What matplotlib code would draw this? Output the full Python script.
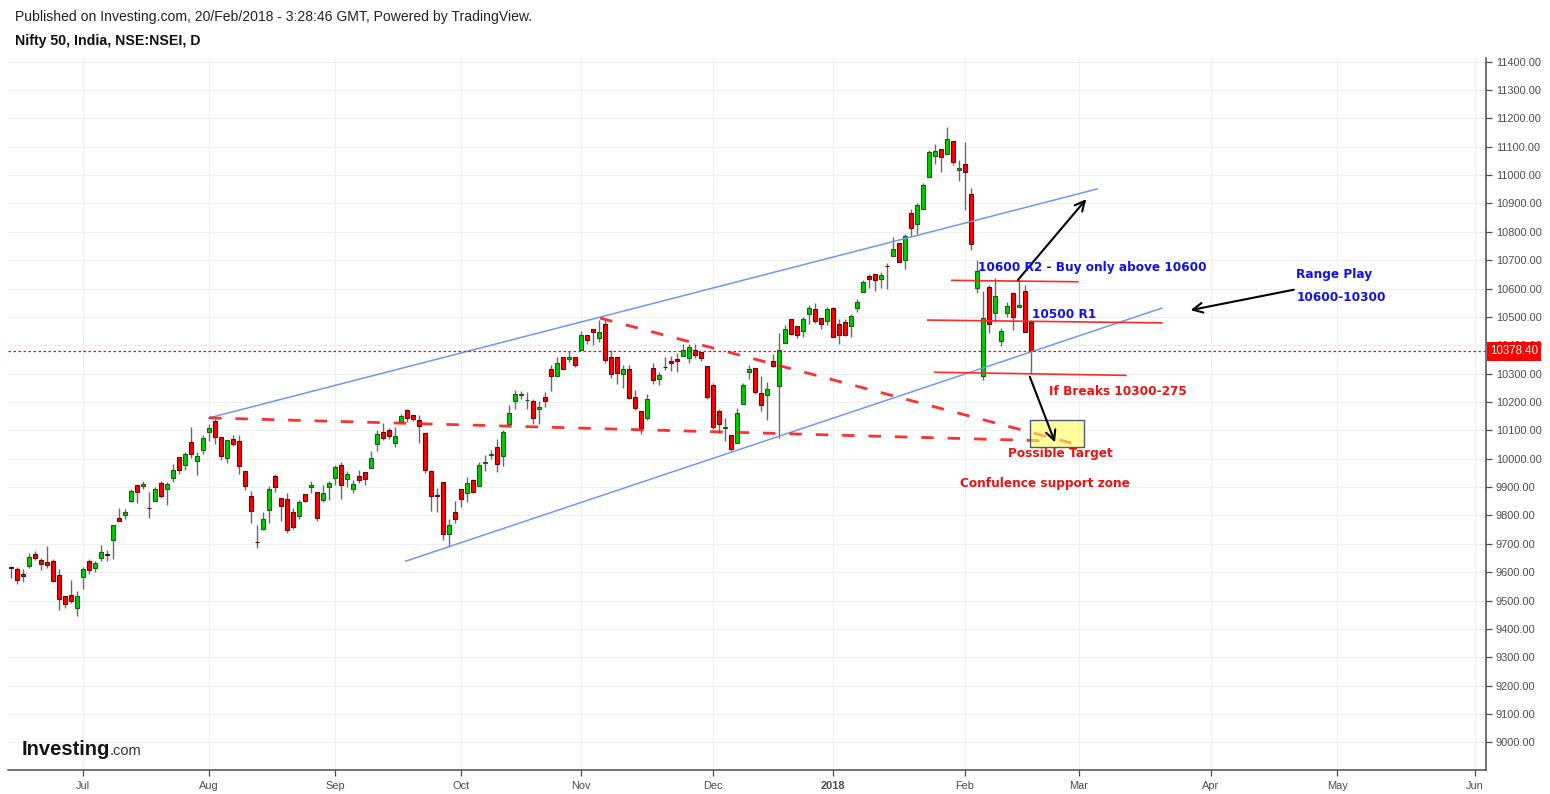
import numpy as np
import pandas as pd
import matplotlib
matplotlib.use("Agg")
import matplotlib.pyplot as plt
from matplotlib.patches import Rectangle
from matplotlib.transforms import blended_transform_factory

# ---------------- data ----------------
holidays = ['2017-06-26', '2017-08-15', '2017-08-25', '2017-10-02', '2017-10-20',
            '2017-12-25', '2018-01-26', '2018-02-13']
first_day = '2017-06-14'
last_day = '2018-02-19'
future_end = '2018-06-30'

opens = [9617, 9612, 9592, 9623, 9665, 9644, 9636, 9640, 9591, 9516, 9520, 9474,
         9582, 9640, 9614, 9651, 9663, 9714, 9792, 9802, 9852, 9907, 9905, 9828,
         9852, 9915, 9893, 9932, 10007, 9979, 10060, 9992, 10032, 10094, 10132, 10078,
         10002, 10071, 10064, 9958, 9869, 9708, 9752, 9820, 9940, 9862, 9859, 9813,
         9799, 9876, 9900, 9884, 9855, 9900, 9933, 9979, 9928, 9894, 9940, 9954,
         9968, 10053, 10095, 10102, 10056, 10131, 10173, 10155, 10135, 10092, 9957, 9872,
         9917, 9734, 9812, 9892, 9880, 9924, 9905, 9985, 10013, 10041, 10008, 10121,
         10205, 10223, 10207, 10205, 10174, 10216, 10318, 10290, 10360, 10350, 10360, 10385,
         10438, 10459, 10427, 10474, 10357, 10357, 10299, 10317, 10217, 10169, 10145, 10320,
         10281, 10325, 10346, 10352, 10362, 10356, 10384, 10375, 10327, 10260, 10167, 10110,
         10083, 10056, 10192, 10306, 10320, 10231, 10224, 10343, 10256, 10409, 10491, 10469,
         10451, 10509, 10527, 10495, 10487, 10530, 10475, 10483, 10468, 10530, 10589, 10644,
         10650, 10632, 10680, 10716, 10759, 10700, 10867, 10827, 10879, 10995, 11067, 11091,
         11076, 11119, 11017, 11041, 10935, 10601, 10292, 10604, 10515, 10415, 10515, 10583,
         10534, 10592, 10482]
highs = [9623, 9618, 9612, 9667, 9673, 9649, 9694, 9645, 9612, 9516, 9574, 9532,
         9620, 9648, 9641, 9696, 9679, 9767, 9827, 9822, 9895, 9907, 9922, 9881,
         9902, 9920, 9918, 9980, 10007, 10022, 10112, 10022, 10082, 10124, 10139, 10078,
         10067, 10085, 10082, 9958, 9888, 9767, 9813, 9904, 9945, 9862, 9880, 9825,
         9856, 9876, 9922, 9884, 9906, 9922, 9979, 9987, 9958, 9926, 9962, 9954,
         10026, 10100, 10127, 10107, 10111, 10159, 10176, 10155, 10155, 10092, 9960, 9896,
         9917, 9786, 9851, 9892, 9937, 9930, 9988, 10012, 10030, 10068, 10101, 10189,
         10242, 10239, 10235, 10209, 10203, 10235, 10332, 10359, 10360, 10380, 10360, 10450,
         10438, 10459, 10488, 10490, 10383, 10357, 10332, 10332, 10243, 10169, 10229, 10339,
         10307, 10357, 10364, 10372, 10405, 10405, 10405, 10375, 10327, 10267, 10175, 10144,
         10083, 10179, 10267, 10332, 10320, 10293, 10272, 10371, 10443, 10473, 10491, 10469,
         10500, 10541, 10548, 10495, 10536, 10536, 10491, 10491, 10512, 10563, 10630, 10653,
         10653, 10659, 10691, 10783, 10759, 10794, 10879, 10903, 10973, 11088, 11109, 11091,
         11171, 11119, 11055, 11118, 10954, 10700, 10590, 10612, 10636, 10462, 10554, 10589,
         10630, 10612, 10488]
lows = [9579, 9559, 9565, 9615, 9644, 9608, 9614, 9568, 9468, 9475, 9491, 9445,
        9539, 9592, 9602, 9639, 9639, 9646, 9781, 9788, 9848, 9845, 9894, 9791,
        9852, 9862, 9836, 9918, 9946, 9962, 10004, 9942, 10018, 10062, 10052, 9994,
        9986, 10045, 9945, 9889, 9773, 9685, 9747, 9773, 9882, 9780, 9738, 9753,
        9788, 9847, 9879, 9781, 9849, 9855, 9906, 9858, 9901, 9879, 9915, 9908,
        9968, 10027, 10066, 10069, 10040, 10131, 10129, 10132, 10056, 9949, 9816, 9813,
        9714, 9690, 9774, 9831, 9849, 9880, 9905, 9957, 10000, 9954, 9976, 10121,
        10174, 10209, 10177, 10122, 10123, 10183, 10239, 10290, 10318, 10342, 10324, 10385,
        10406, 10400, 10413, 10338, 10285, 10263, 10251, 10210, 10173, 10088, 10136, 10263,
        10259, 10312, 10311, 10305, 10362, 10337, 10356, 10344, 10210, 10106, 10092, 10064,
        10029, 10056, 10192, 10280, 10228, 10167, 10138, 10322, 10074, 10409, 10437, 10427,
        10429, 10476, 10477, 10457, 10471, 10430, 10404, 10432, 10430, 10518, 10589, 10601,
        10592, 10601, 10597, 10716, 10692, 10668, 10783, 10794, 10879, 10995, 11041, 11010,
        11076, 11035, 10980, 10877, 10736, 10585, 10277, 10444, 10483, 10399, 10501, 10454,
        10534, 10448, 10301]
closes = [9615, 9573, 9585, 9655, 9651, 9629, 9626, 9568, 9506, 9488, 9498, 9516,
          9611, 9607, 9632, 9672, 9661, 9767, 9781, 9812, 9887, 9884, 9912, 9825,
          9894, 9869, 9912, 9961, 9961, 10018, 10018, 10011, 10074, 10109, 10076, 10009,
          10065, 10053, 9974, 9905, 9815, 9706, 9788, 9894, 9900, 9834, 9749, 9759,
          9848, 9852, 9908, 9791, 9880, 9915, 9972, 9908, 9946, 9912, 9926, 9928,
          10004, 10088, 10074, 10081, 10081, 10149, 10145, 10139, 10115, 9961, 9870, 9870,
          9734, 9766, 9786, 9857, 9913, 9884, 9977, 9987, 10015, 9980, 10093, 10163,
          10227, 10230, 10208, 10142, 10181, 10205, 10292, 10339, 10318, 10360, 10332, 10438,
          10420, 10448, 10448, 10347, 10300, 10304, 10317, 10214, 10180, 10109, 10211, 10278,
          10295, 10323, 10337, 10344, 10384, 10395, 10366, 10354, 10218, 10113, 10121, 10111,
          10036, 10160, 10260, 10317, 10235, 10189, 10246, 10327, 10384, 10459, 10441, 10437,
          10491, 10530, 10487, 10474, 10527, 10430, 10438, 10438, 10503, 10554, 10622, 10632,
          10630, 10648, 10678, 10738, 10695, 10785, 10812, 10893, 10964, 11080, 11085, 11065,
          11126, 11045, 11024, 11012, 10756, 10663, 10495, 10475, 10574, 10451, 10538, 10499,
          10542, 10448, 10378.40]
last_price = 10378.40

month_labels = ['Jul', 'Aug', 'Sep', 'Oct', 'Nov', 'Dec', '2018', 'Feb', 'Mar', 'Apr', 'May', 'Jun']
month_keys = ['2017-07', '2017-08', '2017-09', '2017-10', '2017-11', '2017-12',
              '2018-01', '2018-02', '2018-03', '2018-04', '2018-05', '2018-06']
price_ticks = list(range(9000, 11401, 100))

# drawn annotations (bar index, price)
upper_channel = [(33, 10144), (181, 10951)]
lower_channel = [(65.8, 9639), (191.8, 10531)]
dashed_support = [(33, 10144), (172.7, 10063)]
dashed_falling = [(98.2, 10496), (177.3, 10052)]
level_r2 = [(156.8, 10629), (177.8, 10624)]
level_r1 = [(152.8, 10489), (191.8, 10479)]
level_s = [(154.0, 10305), (185.8, 10294)]
arrow_up = [(167.8, 10630), (179.2, 10915)]
arrow_down = [(169.8, 10289), (174.0, 10058)]
arrow_left = [(213.8, 10596), (196.6, 10524)]
target_box = [(169.9, 10042), (178.9, 10136)]
blue_texts = [(161.2, 10673, '10600 R2 - Buy only above 10600'),
              (170.2, 10510, '10500 R1'),
              (214.2, 10651, 'Range Play'),
              (214.2, 10570, '10600-10300')]
red_texts = [(173.0, 10236, 'If Breaks 10300-275'),
             (166.2, 10020, 'Possible Target'),
             (158.2, 9914, 'Confulence support zone')]

# ---------------- dates / positions ----------------
hist = pd.bdate_range(first_day, last_day, freq='C', holidays=holidays)
future = pd.bdate_range(pd.Timestamp(last_day) + pd.Timedelta(days=1), future_end)
all_dates = hist.append(future)
xs = np.arange(len(opens))
ym = all_dates.strftime('%Y-%m')
tick_pos = []
for k in month_keys:
    idx = np.where(ym == k)[0]
    tick_pos.append(int(idx[0]) if len(idx) else np.nan)

# ---------------- figure ----------------
W, H = 1550, 794
fig = plt.figure(figsize=(W / 100, H / 100), dpi=100)
ax = fig.add_axes([8 / W, 24 / H, (1486 - 8) / W, (770 - 58) / H])
ax.set_xlim(-0.5, 245.83)
ax.set_ylim(8902.5, 11413)

axis_col = '#4d4d4d'
grid_col = '#efefef'
for p in price_ticks:
    ax.axhline(p, color=grid_col, lw=0.8, zorder=0)
for t in tick_pos:
    ax.axvline(t, color=grid_col, lw=0.8, zorder=0)

o = np.array(opens, float); c = np.array(closes, float)
h = np.array(highs, float); l = np.array(lows, float)
up = c >= o
ax.vlines(xs, l, h, color='#6a6a6a', lw=1.0, zorder=2)
bottoms = np.minimum(o, c)
heights = np.maximum(np.abs(c - o), 1.0)
ax.bar(xs[up], heights[up], bottom=bottoms[up], width=0.68, color='#00cc00',
       edgecolor='#1d5a1d', linewidth=0.8, zorder=3)
ax.bar(xs[~up], heights[~up], bottom=bottoms[~up], width=0.68, color='#ff0000',
       edgecolor='#5a0a0a', linewidth=0.8, zorder=3)

# trend channel
for seg in (upper_channel, lower_channel):
    ax.plot([seg[0][0], seg[1][0]], [seg[0][1], seg[1][1]], color='#6e9be8', lw=1.1, zorder=4)
for seg in (dashed_support, dashed_falling):
    ax.plot([seg[0][0], seg[1][0]], [seg[0][1], seg[1][1]], color='#ff1a1a', lw=2.0,
            ls=(0, (4.5, 5)), zorder=4, alpha=0.9)
for seg in (level_r2, level_r1, level_s):
    ax.plot([seg[0][0], seg[1][0]], [seg[0][1], seg[1][1]], color='#ff2a2a', lw=1.2, zorder=4)

# target box
(bx0, by0), (bx1, by1) = target_box
ax.add_patch(Rectangle((bx0, by0), bx1 - bx0, by1 - by0, facecolor=(1, 1, 0.35, 0.6),
                       edgecolor='#4b5878', lw=1.0, zorder=5))

# arrows
for seg in (arrow_up, arrow_down, arrow_left):
    ax.annotate('', xy=seg[1], xytext=seg[0],
                arrowprops=dict(arrowstyle='->,head_length=0.7,head_width=0.35',
                                color='black', lw=1.5, shrinkA=0, shrinkB=0), zorder=6)

# texts
for x, y, s in blue_texts:
    ax.text(x, y, s, color='#1010f0', fontsize=8.7, fontweight='bold', family='DejaVu Sans',
            ha='left', va='center', zorder=7)
for x, y, s in red_texts:
    ax.text(x, y, s, color='#f01010', fontsize=8.7, fontweight='bold', family='DejaVu Sans',
            ha='left', va='center', zorder=7)

# last price line and label
ax.axhline(last_price, color='#ff0000', lw=0.9, ls=(0, (2, 2)), zorder=4)
trans = blended_transform_factory(ax.transAxes, ax.transData)
ax.text(1 + 4 / 1478, last_price, f'{last_price:.2f}', transform=trans, color='white',
        fontsize=8.3, family='Liberation Sans', ha='left', va='center', zorder=10, clip_on=False,
        bbox=dict(boxstyle='square,pad=0.28', fc='#ff0000', ec='none'))

# axes styling
for s in ('left', 'top'):
    ax.spines[s].set_visible(False)
for s in ('right', 'bottom'):
    ax.spines[s].set_color(axis_col)
    ax.spines[s].set_linewidth(1.1)
ax.yaxis.tick_right()
ax.set_yticks(price_ticks)
ax.set_yticklabels([f'{p:.2f}' for p in price_ticks])
ax.set_xticks(tick_pos)
ax.set_xticklabels(month_labels)
ax.tick_params(axis='y', direction='out', length=4, width=0.9, color=axis_col, pad=3,
               labelsize=7.9, labelcolor=axis_col)
ax.tick_params(axis='x', direction='out', length=4, width=0.9, color=axis_col, pad=4,
               labelsize=7.9, labelcolor=axis_col)
for lab in ax.get_xticklabels() + ax.get_yticklabels():
    lab.set_family('Liberation Sans')
for lab in ax.get_xticklabels():
    if lab.get_text() == '2018':
        lab.set_fontweight('bold')

# header
fig.text(15 / W, 1 - 17 / H,
         'Published on Investing.com, 20/Feb/2018 - 3:28:46 GMT, Powered by TradingView.',
         fontsize=10.1, family='Liberation Sans', color='#222222', ha='left', va='center')
fig.text(15 / W, 1 - 41 / H, 'Nifty 50, India, NSE:NSEI, D', fontsize=10.2,
         family='Liberation Sans', fontweight='bold', color='#111111', ha='left', va='center')

# logo
fig.text(22 / W, 1 - 755 / H, 'Investing', fontsize=14.5, family='Liberation Sans',
         fontweight='bold', color='#151515', ha='left', va='baseline')
fig.text(110 / W, 1 - 755 / H, '.com', fontsize=10.5, family='Liberation Sans',
         color='#333333', ha='left', va='baseline')

fig.savefig('out.png', dpi=100)
